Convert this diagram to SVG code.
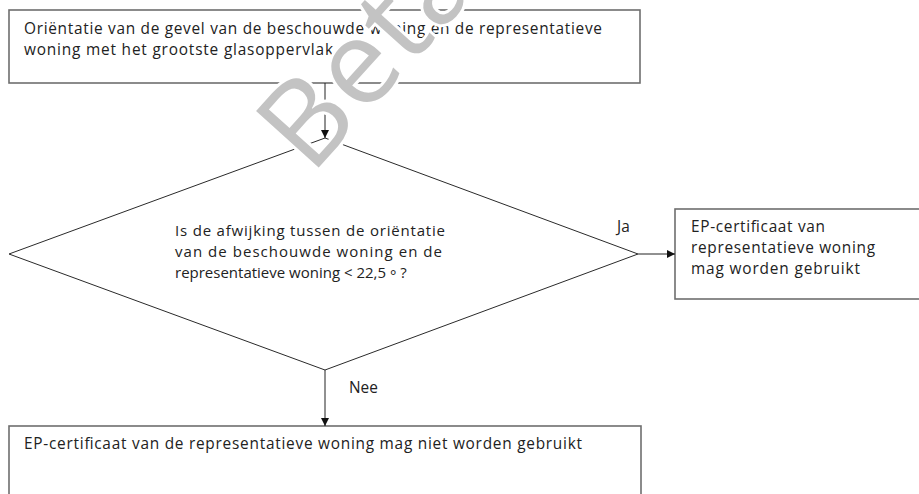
<svg xmlns="http://www.w3.org/2000/svg" width="919" height="494" viewBox="0 0 919 494">
  <style>
    .box { fill: #ffffff; stroke: #6e6e6e; stroke-width: 1.6; }
    .dec { fill: #ffffff; stroke: #2a2a2a; stroke-width: 1; }
    .txt { font-family: "Open Sans", "Noto Sans", "DejaVu Sans", sans-serif; font-size: 15.4px; fill: #222222; }
    .sm { font-size: 15px; }
    .edge { stroke: #222222; stroke-width: 1; fill: none; }
    .wm { font-family: "Open Sans", "Noto Sans", sans-serif; font-size: 118px; fill: #c3c3c3; stroke: #ffffff; stroke-width: 6; paint-order: stroke; stroke-linejoin: round; }
  </style>
  <defs>
    <marker id="arrow" viewBox="0 0 10 10" refX="10" refY="5" markerWidth="8" markerHeight="8" markerUnits="userSpaceOnUse" orient="auto">
      <path d="M0,0 L10,5 L0,10 Z" fill="#111111"/>
    </marker>
  </defs>

  <rect width="919" height="494" fill="#ffffff"/>

  <g id="orientatie">
    <rect class="box" x="9" y="10" width="631" height="73"/>
    <text class="txt" x="24" y="34" textLength="578" lengthAdjust="spacing">Oriëntatie van de gevel van de beschouwde woning en de representatieve</text>
    <text class="txt" x="24" y="55" textLength="309" lengthAdjust="spacing">woning met het grootste glasoppervlak</text>
  </g>

  <g id="beslissing">
    <polygon class="dec" points="325,138 638,254 325,370 9,254"/>
    <text class="txt sm" x="175" y="236" textLength="270" lengthAdjust="spacing">Is de afwijking tussen de oriëntatie</text>
    <text class="txt sm" x="175" y="257" textLength="267" lengthAdjust="spacing">van de beschouwde woning en de</text>
    <text class="txt sm" x="175" y="278">representatieve woning &lt; 22,5 <tspan dy="3">°</tspan><tspan dy="-3"> ?</tspan></text>
  </g>

  <g id="mag-gebruikt">
    <rect class="box" x="675" y="209" width="260" height="90"/>
    <text class="txt" x="691" y="232" textLength="134" lengthAdjust="spacing">EP-certificaat van</text>
    <text class="txt" x="691" y="253" textLength="184" lengthAdjust="spacing">representatieve woning</text>
    <text class="txt" x="691" y="274" textLength="169" lengthAdjust="spacing">mag worden gebruikt</text>
  </g>

  <g id="mag-niet-gebruikt">
    <rect class="box" x="9" y="426" width="632" height="80"/>
    <text class="txt" x="24" y="449" textLength="558" lengthAdjust="spacing">EP-certificaat van de representatieve woning mag niet worden gebruikt</text>
  </g>

  <g id="connectors">
    <line class="edge" x1="325" y1="83" x2="325" y2="138" marker-end="url(#arrow)"/>
    <line class="edge" x1="638" y1="254" x2="675" y2="254" marker-end="url(#arrow)"/>
    <line class="edge" x1="325" y1="370" x2="325" y2="426" marker-end="url(#arrow)"/>
    <text class="txt" x="617" y="232">Ja</text>
    <text class="txt" x="349" y="393">Nee</text>
  </g>

  <text class="wm" transform="translate(311,176) rotate(-48)" letter-spacing="2">Beta</text>
</svg>
